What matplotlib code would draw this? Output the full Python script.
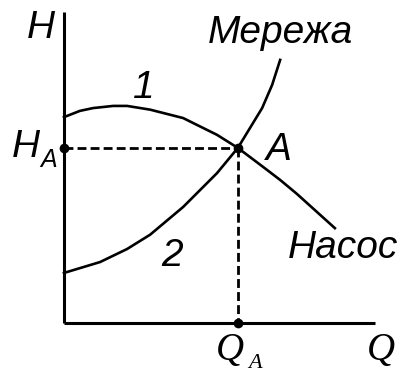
import numpy as np
import matplotlib
matplotlib.use("Agg")
import matplotlib.pyplot as plt

# pump curve (1) and network curve (2)
q_pump = [0, 0.51, 0.93, 1.58, 2.03, 2.77, 3.83, 4.92, 5.59, 6.40, 6.95, 7.49, 8.71]
h_pump = [6.62, 6.82, 6.91, 6.98, 6.98, 6.86, 6.59, 6.05, 5.63, 5.02, 4.60, 4.15, 3.05]

q_net = [0, 1.16, 2.03, 2.77, 3.83, 4.92, 5.59, 5.98, 6.37, 6.69, 6.95]
h_net = [1.61, 1.96, 2.38, 2.84, 3.73, 4.82, 5.63, 6.27, 6.91, 7.65, 8.46]

q_a = 5.59
h_a = 5.63
q_max = 10.0
h_max = 10.0

sans = "Liberation Sans"
serif = "Liberation Serif"

fig = plt.figure(figsize=(4.03, 3.74), dpi=100)
ax = fig.add_axes([0, 0, 1, 1])
ax.set_xlim(-2.058, 10.90)
ax.set_ylim(-1.64, 10.386)
ax.axis("off")

# axes
ax.plot([0, q_max], [0, 0], color="black", lw=2.2, solid_capstyle="butt")
ax.plot([0, 0], [0, h_max], color="black", lw=2.2, solid_capstyle="butt")

# curves
ax.plot(q_pump, h_pump, color="black", lw=1.9, solid_joinstyle="round")
ax.plot(q_net, h_net, color="black", lw=1.9, solid_joinstyle="round")

# dashed guides to the operating point
ax.plot([0, q_a], [h_a, h_a], color="black", lw=2.0, dashes=(3.2, 1.5))
ax.plot([q_a, q_a], [h_a, 0], color="black", lw=2.0, dashes=(3.2, 1.5))
ax.plot([0, q_a, q_a], [h_a, h_a, 0], "o", color="black", ms=7, mec="none")

ts = 28
ax.text(-0.74, 9.16, "H", fontsize=ts, family=sans, style="italic", ha="center", va="baseline")
ax.text(6.95, 9.00, "Мережа", fontsize=ts, family=sans, style="italic", ha="center", va="baseline")
ax.text(2.57, 7.23, "1", fontsize=ts, family=sans, style="italic", ha="center", va="baseline")
ax.text(6.91, 5.24, "A", fontsize=ts, family=sans, style="italic", ha="center", va="baseline")
ax.text(-1.23, 5.34, "H", fontsize=ts, family=sans, style="italic", ha="center", va="baseline")
ax.text(-0.50, 5.02, "A", fontsize=18, family=sans, style="italic", ha="center", va="baseline")
ax.text(3.47, 1.83, "2", fontsize=ts, family=sans, style="italic", ha="center", va="baseline")
ax.text(8.97, 2.09, "Насос", fontsize=ts, family=sans, style="italic", ha="center", va="baseline")

ax.text(5.34, -1.19, "Q", fontsize=28, family=serif, style="italic", ha="center", va="baseline")
ax.text(6.13, -1.45, "A", fontsize=16, family=serif, style="italic", ha="center", va="baseline")
ax.text(10.19, -1.19, "Q", fontsize=28, family=serif, style="italic", ha="center", va="baseline")

fig.savefig("out.png", dpi=100)
